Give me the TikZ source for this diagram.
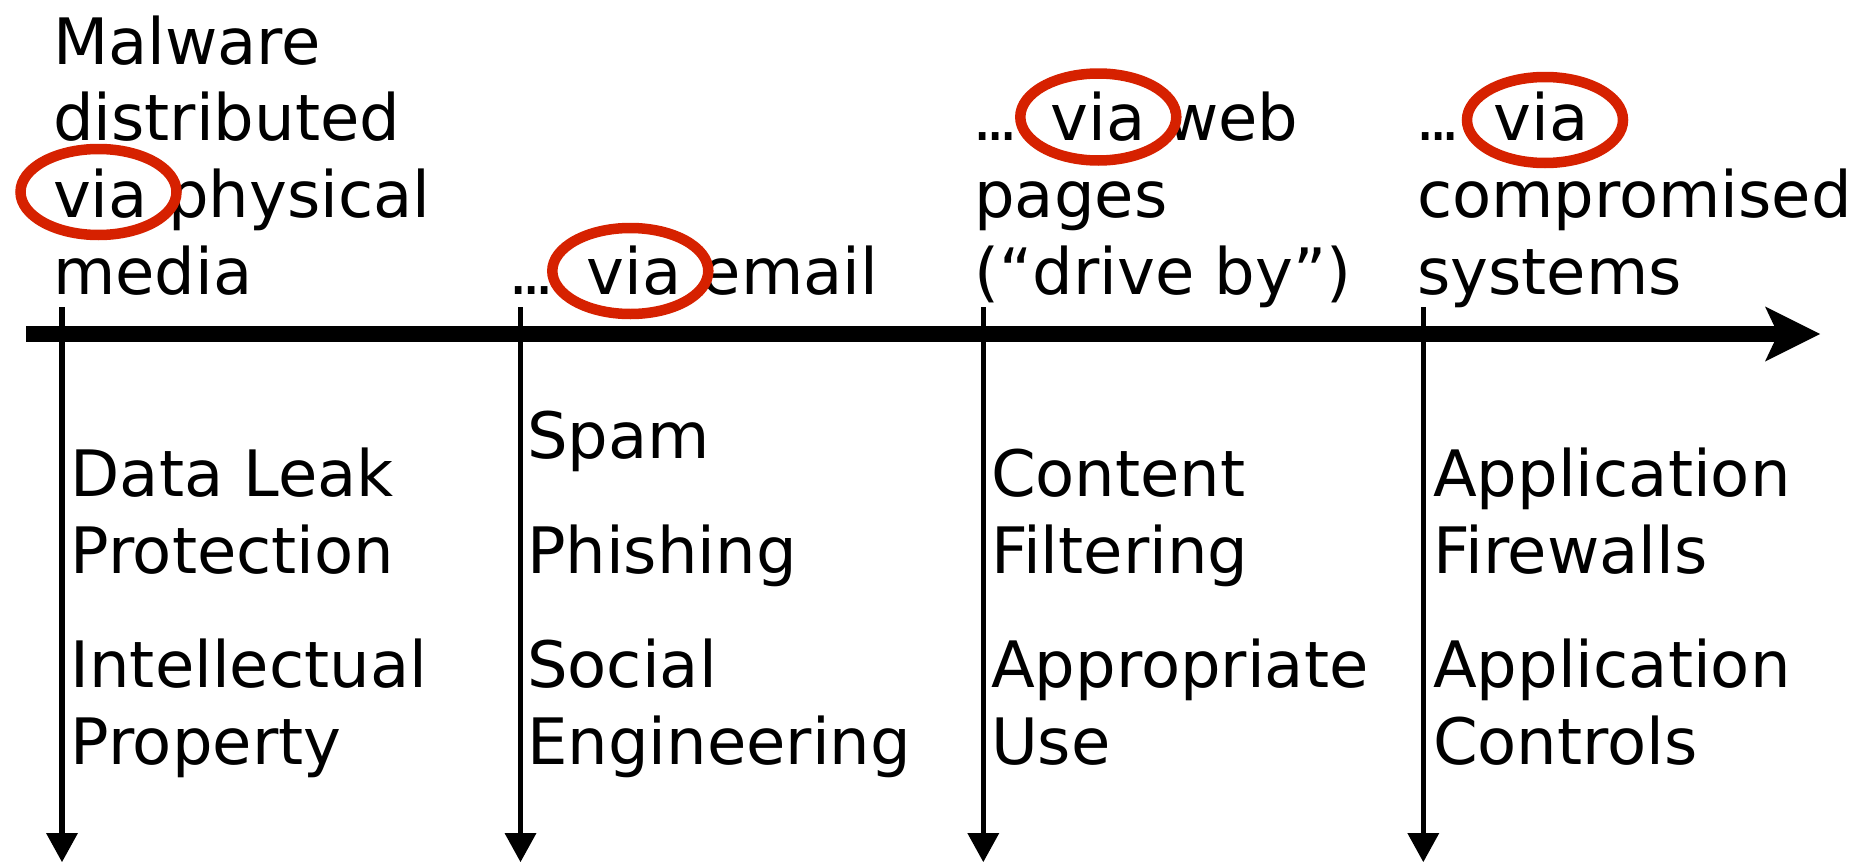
\documentclass[tikz,border=0pt]{standalone}
\usepackage{fontspec}
\setmainfont{DejaVu Sans}
\usetikzlibrary{arrows.meta}
\definecolor{ringred}{RGB}{214,33,0}
\newcommand{\myellipsis}{\makebox[58pt][l]{.\kern-7.4pt.\kern-7.4pt.}}
\begin{document}
\begin{tikzpicture}[x=1pt,y=-1pt,
  lbl/.style={anchor=base west, inner sep=0pt, outer sep=0pt, font=\fontsize{64}{76.8}\selectfont},
  axisline/.style={line width=15.5pt, -{Stealth[length=55pt,width=55pt,inset=13pt,line width=0pt]}},
  droparrow/.style={line width=5.5pt, -{Triangle[length=29pt,width=32pt,line width=0pt]}},
  viaring/.style={draw=ringred, line width=10.5pt}]
\useasboundingbox (0,0) rectangle (1853,862);

% main time axis
\coordinate (axL) at (26,334);
\coordinate (axR) at (1820,334);
\draw[axisline] (axL) -- (axR);

% drop arrows
\coordinate (t1) at (62,307);    \coordinate (b1) at (62,862);
\coordinate (t2) at (520.5,307); \coordinate (b2) at (520.5,862);
\coordinate (t3) at (983.3,307); \coordinate (b3) at (983.3,862);
\coordinate (t4) at (1423.3,307);\coordinate (b4) at (1423.3,862);
\draw[droparrow] (t1) -- (b1);
\draw[droparrow] (t2) -- (b2);
\draw[droparrow] (t3) -- (b3);
\draw[droparrow] (t4) -- (b4);

% top labels
\node[lbl] (m1) at (53,64) {Malware};
\node[lbl] (m2) at (53,140.8) {distributed};
\node[lbl] (m3) at (53,217.6) {via physical};
\node[lbl] (m4) at (53,294.4) {media};

\node[lbl] (e1) at (508.2,294.4) {\myellipsis{} via email};

\node[lbl] (w1) at (972.5,140.8) {\myellipsis{} via web};
\node[lbl] (w2) at (974.3,217.6) {pages};
\node[lbl] (w3) at (974.3,294.4) {(“drive by”)};

\node[lbl] (c1) at (1415,140.8) {\myellipsis{} via};
\node[lbl] (c2) at (1417,217.6) {compromised};
\node[lbl] (c3) at (1417,294.4) {systems};

% bottom labels
\node[lbl] (d1) at (70.5,496.5) {Data Leak};
\node[lbl] (d2) at (70.5,573.3) {Protection};
\node[lbl] (d3) at (70.5,687.5) {Intellectual};
\node[lbl] (d4) at (70.5,764.3) {Property};

\node[lbl] (s1) at (527,458.7) {Spam};
\node[lbl] (s2) at (527,573.3) {Phishing};
\node[lbl] (s3) at (527,687.5) {Social};
\node[lbl] (s4) at (527,764.3) {Engineering};

\node[lbl] (f1) at (991,496.5) {Content};
\node[lbl] (f2) at (991,573.3) {Filtering};
\node[lbl] (f3) at (991,687.5) {Appropriate};
\node[lbl] (f4) at (991,764.3) {Use};

\node[lbl] (a1) at (1433,496.5) {Application};
\node[lbl] (a2) at (1433,573.3) {Firewalls};
\node[lbl] (a3) at (1433,687.5) {Application};
\node[lbl] (a4) at (1433,764.3) {Controls};

% red rings around "via"
\draw[viaring] (98.5,192) ellipse [x radius=78pt, y radius=43pt];
\draw[viaring] (630.3,271) ellipse [x radius=78pt, y radius=43pt];
\draw[viaring] (1098.3,117) ellipse [x radius=78pt, y radius=43.5pt];
\draw[viaring] (1545,120) ellipse [x radius=78pt, y radius=43pt];
\end{tikzpicture}
\end{document}
